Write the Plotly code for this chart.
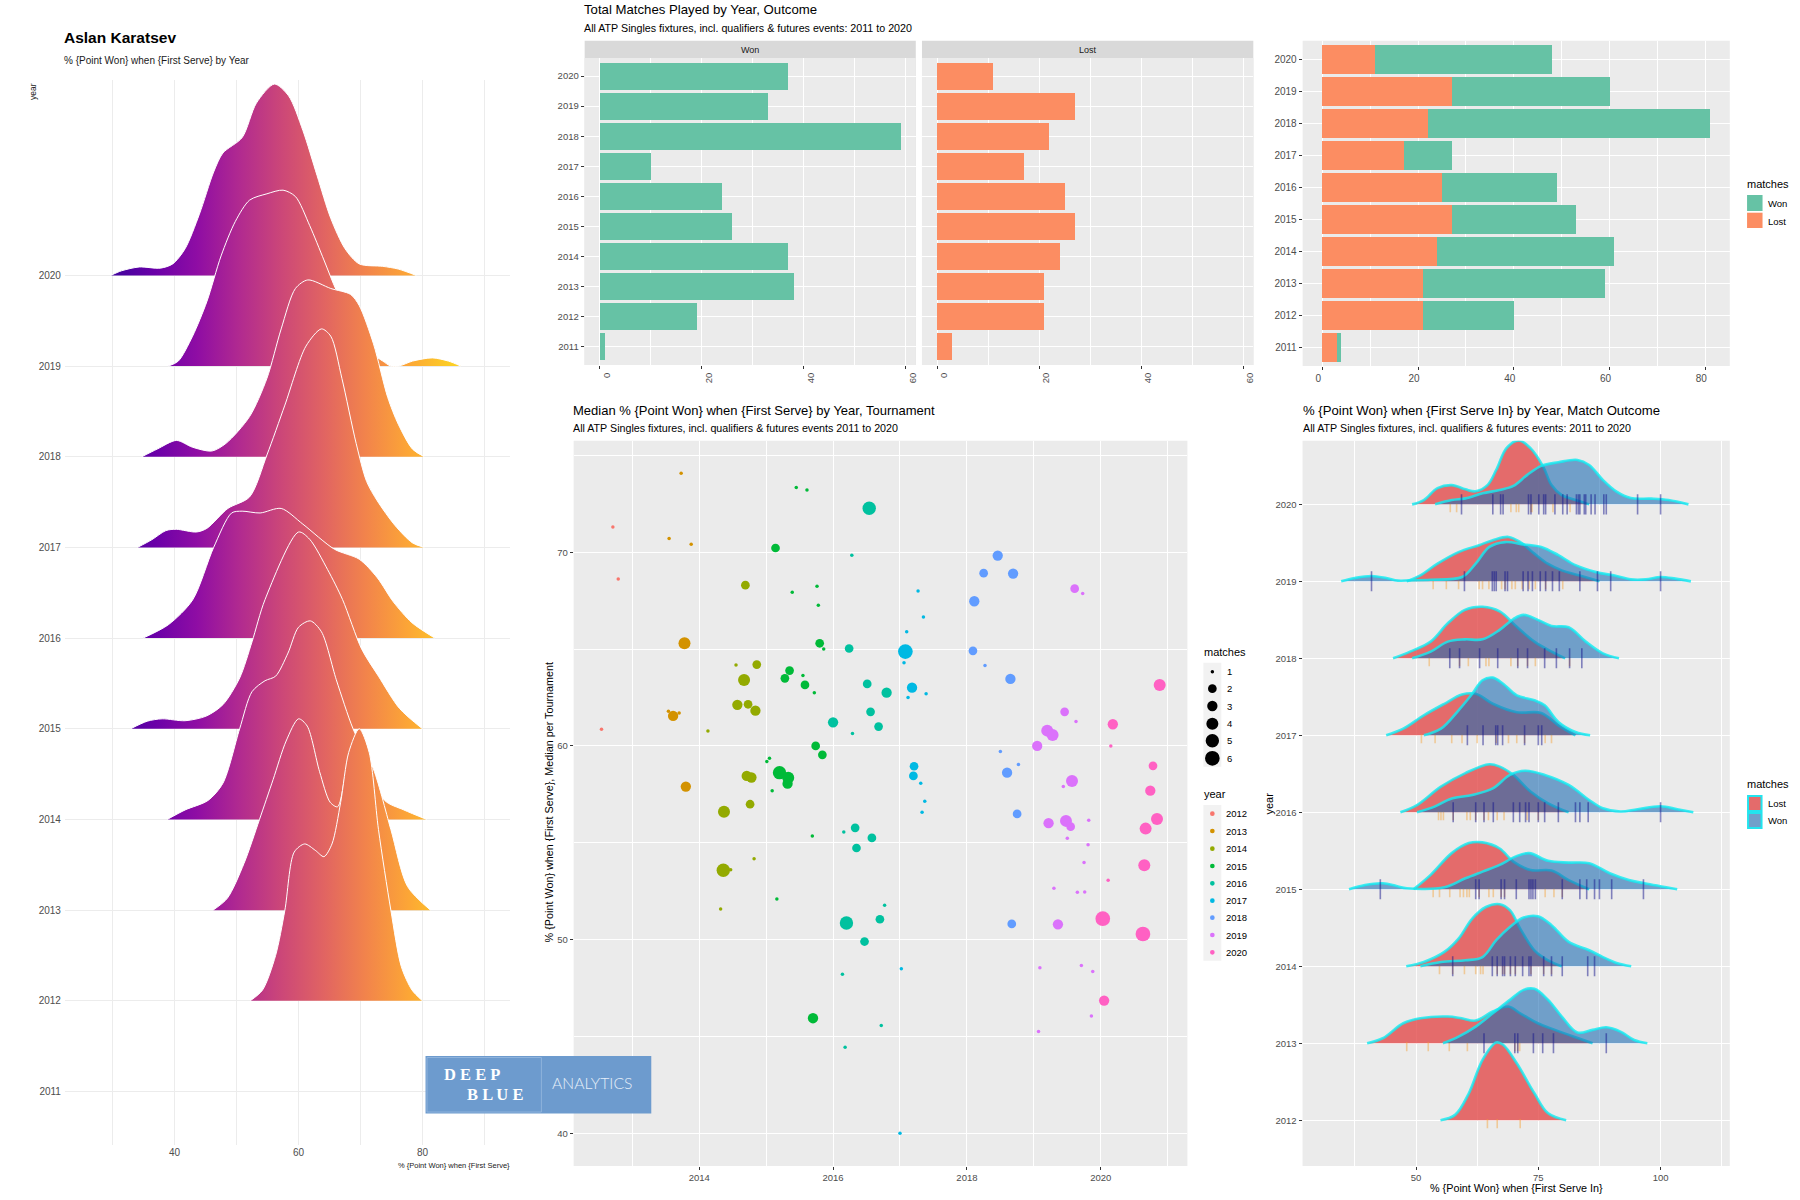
import plotly.graph_objects as go

WIDTH = 1800
HEIGHT = 1200

SANS = "Liberation Sans, sans-serif"
SERIF = "Liberation Serif, serif"

# ---- totals by year
years = [2011, 2012, 2013, 2014, 2015, 2016, 2017, 2018, 2019, 2020]
won_matches = [1, 19, 38, 37, 26, 24, 10, 59, 33, 37]
lost_matches = [3, 21, 21, 24, 27, 25, 17, 22, 27, 11]

# ---- ridgeline, % point won (x) and ridge height in rows (h)
ridge_x_2020 = [29.7, 31.4, 34.3, 37.7, 39.7, 41.7, 44, 46.3, 47.8, 50.9, 53.2, 56.1, 58.4, 60.7, 63, 65.2, 67.5, 69.8, 73.6, 76.1, 79]
ridge_h_2020 = [0, .05, .093, .08, .127, .295, .675, 1.14, 1.35, 1.52, 1.9, 2.11, 1.98, 1.6, 1.1, .63, .295, .127, .1, .07, 0]
ridge_x_2019 = [39, 40.6, 42.9, 45.2, 47.5, 49.8, 52.1, 54.9, 57.5, 59.5, 61.8, 64.1, 66.1, 69.3, 71.5, 73.6, 74.9, 76.2, 78.4, 81.6, 84.2, 86.2]
ridge_h_2019 = [0, .055, .33, .71, 1.215, 1.595, 1.83, 1.9, 1.94, 1.87, 1.55, 1.17, .835, .41, .16, .055, 0, 0, .055, .09, .055, 0]
ridge_x_2018 = [34.7, 37.2, 40.3, 42.9, 46, 48.3, 52.1, 54.9, 57.2, 59.5, 61.5, 65.2, 68.4, 69.8, 72.1, 74.4, 76.1, 78.4, 80.3]
ridge_h_2018 = [0, .085, .18, .105, .063, .148, .443, .865, 1.41, 1.856, 1.95, 1.856, 1.79, 1.667, 1.245, .654, .359, .084, 0]
ridge_x_2017 = [34, 36.3, 38.6, 40.3, 43.5, 45.2, 48.6, 52.1, 54.9, 57.8, 61.2, 63.7, 65.2, 67, 69.3, 71, 72.7, 75.6, 78.4, 80.3]
ridge_h_2017 = [0, .084, .186, .2, .17, .21, .43, .557, 1.02, 1.57, 2.22, 2.41, 2.33, 1.865, 1.148, .726, .515, .24, .05, 0]
ridge_x_2016 = [34.9, 39, 42.9, 46.3, 49.2, 50.9, 53.8, 57.2, 60.7, 65.8, 69.8, 72.7, 75.3, 78.3, 82]
ridge_h_2016 = [0, .148, .42, 1, 1.38, 1.4, 1.38, 1.43, 1.257, .98, .87, .667, .4, .17, 0]
ridge_x_2015 = [32.9, 35.6, 38, 41.7, 45.1, 47.8, 50.5, 52.5, 54.6, 60, 61.8, 64.7, 67.1, 70.2, 72.9, 76.3, 80]
ridge_h_2015 = [0, .084, .11, .089, .14, .266, .56, .96, 1.426, 2.17, 2.09, 1.755, 1.426, .878, .58, .224, 0]
ridge_x_2014 = [38.8, 41.7, 45.4, 47.8, 50.5, 52.5, 54.6, 56.3, 58.3, 60, 61.9, 63.7, 66.1, 68.8, 71.5, 73.9, 77, 80.7]
ridge_h_2014 = [0, .105, .21, .4, 1, 1.41, 1.53, 1.58, 1.835, 2.12, 2.19, 2.07, 1.54, 1, .61, .21, .105, 0]
ridge_x_2013 = [46.2, 48.5, 51.2, 53.7, 55.9, 58, 60, 61.4, 63.4, 65.1, 66.3, 67.8, 69.5, 71.9, 74.9, 77.6, 81.3]
ridge_h_2013 = [0, .13, .515, 1, 1.44, 1.865, 2.11, 2.03, 1.527, 1.19, 1.14, 1.57, 1.87, 1.59, .89, .26, 0]
ridge_x_2012 = [52.2, 54.2, 56.3, 57.8, 59.3, 61, 62.7, 64.1, 65.4, 66.8, 68.1, 69.8, 71.4, 72.9, 74.9, 76.6, 78.3, 80]
ridge_h_2012 = [0, .12, .5, 1, 1.64, 1.73, 1.66, 1.59, 1.73, 2.19, 2.74, 3, 2.74, 1.89, 1, .375, .12, 0]

ridge_rows = [
    (2020, ridge_x_2020, ridge_h_2020),
    (2019, ridge_x_2019, ridge_h_2019),
    (2018, ridge_x_2018, ridge_h_2018),
    (2017, ridge_x_2017, ridge_h_2017),
    (2016, ridge_x_2016, ridge_h_2016),
    (2015, ridge_x_2015, ridge_h_2015),
    (2014, ridge_x_2014, ridge_h_2014),
    (2013, ridge_x_2013, ridge_h_2013),
    (2012, ridge_x_2012, ridge_h_2012),
]

plasma_stops = ["#41049d", "#6a00a8", "#8f0da4", "#b12a90", "#cc4778", "#e16462", "#f2844b", "#fca636", "#fcce25"]

# ---- tournament medians per year: date, median %, matches played
t_x_2012 = [2012.71, 2012.79, 2012.54]
t_y_2012 = [71.31, 68.62, 60.86]
t_m_2012 = [1, 1, 1]
t_x_2013 = [2013.73, 2013.55, 2013.88, 2013.78, 2013.54, 2013.70, 2013.61, 2013.80]
t_y_2013 = [74.08, 70.71, 70.41, 65.3, 61.79, 61.7, 61.55, 57.9]
t_m_2013 = [1, 1, 1, 4, 1, 1, 3, 3]
t_x_2014 = [2014.69, 2014.55, 2014.86, 2014.67, 2014.57, 2014.73, 2014.84, 2014.13, 2014.71, 2014.78, 2014.76, 2014.37, 2014.82, 2014.36, 2014.47, 2014.32]
t_y_2014 = [68.3, 64.18, 64.2, 63.4, 62.12, 62.15, 61.82, 60.77, 58.45, 58.37, 56.99, 56.6, 54.17, 53.58, 53.61, 51.58]
t_m_2014 = [2, 1, 2, 4, 3, 2, 3, 1, 3, 3, 2, 4, 1, 5, 1, 1]
t_x_2015 = [2015.45, 2015.61, 2015.14, 2015.39, 2015.76, 2015.78, 2015.80, 2015.86, 2015.35, 2015.28, 2015.55, 2015.58, 2015.72, 2015.74, 2015.84, 2015.05, 2015.01, 2015.2, 2015.33, 2015.32, 2015.09, 2015.69, 2015.16, 2015.70]
t_y_2015 = [73.34, 73.22, 70.22, 67.93, 68.24, 67.26, 65.3, 65.01, 63.89, 63.49, 63.63, 63.15, 62.74, 60, 59.54, 59.36, 59.19, 58.62, 58.36, 58.05, 57.69, 55.35, 52.1, 45.94]
t_m_2015 = [1, 1, 2, 1, 1, 1, 2, 1, 2, 2, 1, 2, 1, 2, 2, 1, 1, 5, 4, 3, 1, 1, 1, 3]
t_x_2016 = [2016.54, 2016.28, 2016.24, 2016.51, 2016.80, 2016.56, 2016.0, 2016.29, 2016.68, 2016.33, 2016.16, 2016.58, 2016.35, 2016.77, 2016.70, 2016.2, 2016.47, 2016.14, 2016.72, 2016.18]
t_y_2016 = [72.27, 69.85, 65.03, 63.2, 62.75, 61.76, 61.22, 60.64, 61.0, 55.77, 55.56, 55.25, 54.73, 51.77, 51.05, 50.86, 49.9, 48.21, 45.56, 44.44]
t_m_2016 = [5, 1, 2, 2, 3, 2, 3, 1, 2, 2, 1, 2, 2, 1, 2, 5, 2, 1, 1, 1]
t_x_2017 = [2017.27, 2017.35, 2017.1, 2017.08, 2017.06, 2017.18, 2017.39, 2017.12, 2017.21, 2017.2, 2017.31, 2017.37, 2017.33, 2017.02, 2017.0]
t_y_2017 = [68.0, 66.66, 65.89, 64.87, 64.29, 63.01, 62.7, 62.5, 58.95, 58.45, 58.07, 57.14, 56.57, 48.49, 40]
t_m_2017 = [1, 1, 1, 6, 1, 3, 1, 1, 2, 2, 1, 1, 1, 1, 1]
t_x_2018 = [2018.46, 2018.25, 2018.69, 2018.11, 2018.09, 2018.27, 2018.65, 2018.5, 2018.77, 2018.6, 2018.75, 2018.67]
t_y_2018 = [69.83, 68.92, 68.9, 67.47, 64.91, 64.15, 63.46, 59.71, 59.04, 58.62, 56.49, 50.81]
t_m_2018 = [3, 2, 3, 3, 2, 1, 3, 1, 1, 3, 2, 2]
t_x_2019 = [2019.61, 2019.73, 2019.46, 2019.63, 2019.2, 2019.28, 2019.05, 2019.44, 2019.57, 2019.22, 2019.48, 2019.55, 2019.82, 2019.5, 2019.81, 2019.75, 2019.3, 2019.65, 2019.76, 2019.36, 2019.09, 2019.71, 2019.88, 2019.86, 2019.07]
t_y_2019 = [68.12, 67.87, 61.76, 61.26, 60.79, 60.57, 60, 57.9, 58.19, 56.01, 56.13, 55.83, 56.16, 55.23, 54.9, 53.98, 52.65, 52.44, 52.46, 50.79, 48.54, 48.66, 48.35, 46.06, 45.25]
t_m_2019 = [2, 1, 2, 1, 4, 4, 3, 1, 4, 3, 4, 2, 1, 1, 1, 1, 1, 1, 1, 3, 1, 1, 1, 1, 1]
t_x_2020 = [2020.88, 2020.18, 2020.15, 2020.78, 2020.74, 2020.84, 2020.67, 2020.65, 2020.11, 2020.03, 2020.63, 2020.05]
t_y_2020 = [63.15, 61.12, 60, 58.97, 57.69, 56.23, 55.73, 53.84, 53.06, 51.08, 50.29, 46.85]
t_m_2020 = [4, 3, 1, 2, 3, 4, 4, 4, 1, 6, 6, 3]

tournament_rows = [
    (2012, t_x_2012, t_y_2012, t_m_2012, "#F8766D"),
    (2013, t_x_2013, t_y_2013, t_m_2013, "#D39200"),
    (2014, t_x_2014, t_y_2014, t_m_2014, "#93AA00"),
    (2015, t_x_2015, t_y_2015, t_m_2015, "#00BA38"),
    (2016, t_x_2016, t_y_2016, t_m_2016, "#00C19F"),
    (2017, t_x_2017, t_y_2017, t_m_2017, "#00B9E3"),
    (2018, t_x_2018, t_y_2018, t_m_2018, "#619CFF"),
    (2019, t_x_2019, t_y_2019, t_m_2019, "#DB72FB"),
    (2020, t_x_2020, t_y_2020, t_m_2020, "#FF61C3"),
]
match_size = {1: 3.5, 2: 8.7, 3: 10.3, 4: 12, 5: 13.4, 6: 14.7}

# ---- ridges by match outcome
lost_x_2020 = [49.2, 51.6, 54.4, 57.3, 60.1, 62.2, 64.6, 66.4, 68.5, 71, 73.4, 76, 77.7, 79.8, 82.6, 85.4]
lost_h_2020 = [0, .056, .21, .25, .195, .17, .25, .447, .73, .83, .73, .49, .25, .12, .056, 0]
won_x_2020 = [53.9, 57.3, 60.1, 63.6, 67.1, 69.9, 72.7, 75.6, 79.1, 83, 85.4, 88.2, 91, 93.9, 98.1, 101.6, 105.7]
won_h_2020 = [0, .056, .078, .143, .187, .24, .38, .5, .547, .577, .512, .317, .165, .082, .074, .056, 0]
rug_won_2020 = [59.3, 65.7, 67.3, 67.8, 73, 73.5, 75.1, 76.1, 76.5, 78.4, 80, 80.9, 82.8, 83.2, 83.5, 84.4, 84.7, 85.8, 86.6, 88.4, 88.9, 95.3, 100]
rug_lost_2020 = [57, 58.3, 69.4, 70.5, 71, 73.5, 73.7, 78, 81.5]

lost_x_2019 = [48.1, 50.9, 54.4, 58.7, 62.9, 65.7, 68.9, 71.3, 74.2, 76.9, 79.8, 83.3, 87.5]
lost_h_2019 = [0, .078, .23, .38, .47, .534, .577, .51, .36, .23, .143, .078, 0]
won_x_2019 = [34.7, 37.5, 40.9, 43.9, 46.3, 48.8, 53, 59.4, 62.2, 65, 68.2, 72, 75.6, 79.1, 82.6, 86.8, 90.4, 93.9, 97, 100, 103, 106.2]
won_h_2019 = [0, .043, .07, .043, .01, .013, .02, .056, .23, .447, .51, .48, .447, .34, .21, .12, .078, .026, .026, .056, .035, 0]
rug_won_2019 = [40.9, 59.9, 65.6, 66, 66.4, 68.2, 68.7, 71.9, 72.9, 73.8, 75.4, 76.5, 77.9, 79.3, 83.5, 87.1, 89.8, 100]
rug_lost_2019 = [53.5, 56.2, 58.7, 62.9, 63.6, 64.9, 67.5, 68.2, 69.6, 70.3, 71.7, 73.1, 74.4, 76.5, 80]

lost_x_2018 = [45.3, 48.8, 53, 56.5, 60, 63.6, 67.1, 70.6, 74.2, 77.7, 80.5]
lost_h_2018 = [0, .087, .217, .455, .63, .67, .61, .41, .217, .087, 0]
won_x_2018 = [49.2, 53, 56.5, 60, 63.6, 67.1, 69.9, 72, 74.9, 77.7, 81.2, 84.7, 88.2, 91.5]
won_h_2018 = [0, .087, .217, .247, .247, .37, .51, .564, .5, .42, .403, .217, .065, 0]
rug_won_2018 = [56.9, 58.9, 63, 66.7, 70.8, 72.8, 76.3, 78.7, 81.4, 83.9]
rug_lost_2018 = [52.7, 58.9, 60.7, 64.3, 64.9, 69.4, 70.8, 72.8, 74.4, 81.4]

lost_x_2017 = [43.9, 47.4, 51.6, 55.8, 59.4, 62.2, 65.7, 70.6, 75.6, 79.1, 82.6]
lost_h_2017 = [0, .087, .26, .41, .53, .54, .41, .3, .29, .13, 0]
won_x_2017 = [51.6, 55.1, 58.7, 61.5, 63.6, 65.7, 67.8, 70.6, 74.2, 76.3, 79.1, 82.6, 85.6]
won_h_2017 = [0, .087, .325, .54, .716, .75, .67, .52, .455, .39, .174, .043, 0]
rug_won_2017 = [60.5, 63.7, 66.3, 66.7, 67.7, 72.2, 75, 75.7]
rug_lost_2017 = [51.1, 53.9, 57.3, 59.4, 62.5, 66.4, 68.9, 70.6, 72.2, 76.4, 77.7]

lost_x_2016 = [46.8, 50.2, 55.1, 60.1, 65, 67.1, 69.9, 73.4, 77, 81.2]
lost_h_2016 = [0, .095, .334, .51, .625, .594, .486, .27, .117, 0]
won_x_2016 = [50.2, 53.8, 57.3, 61.5, 65.7, 69.2, 72.3, 76.3, 81.2, 85.4, 88.2, 91.8, 95.3, 100, 103.4, 106.7]
won_h_2016 = [0, .074, .18, .225, .31, .486, .54, .486, .356, .16, .052, .01, .04, .078, .04, 0]
rug_won_2016 = [57.6, 62.2, 63.9, 65.8, 69.9, 71.2, 72.4, 73.1, 75, 76.3, 79.1, 82.6, 83.5, 85.2, 100]
rug_lost_2016 = [54.6, 55.1, 55.6, 57.6, 60.4, 61.1, 62.2, 63.9, 64.8, 66.6, 68, 72.7, 75]

lost_x_2015 = [49.5, 53, 57.3, 60.8, 63.6, 67.1, 69.9, 73.4, 77.7, 81.2, 85.4]
lost_h_2015 = [0, .187, .47, .6, .61, .53, .36, .25, .243, .12, 0]
won_x_2015 = [36.3, 39.6, 43.2, 46, 48.1, 55.8, 60.1, 63.6, 67.1, 70.3, 73.1, 77, 81.2, 85.4, 89.6, 93.5, 96.7, 103.4]
won_h_2015 = [0, .056, .078, .043, .013, .026, .143, .23, .317, .425, .47, .37, .347, .338, .208, .12, .078, 0]
rug_won_2015 = [42.7, 62.2, 62.9, 67.4, 68.1, 70.5, 73.1, 73.5, 73.9, 74.4, 79.9, 83.5, 84.9, 86.5, 87.5, 90, 96.5]
rug_lost_2015 = [53.5, 54.8, 56.9, 59, 59.7, 60.4, 60.9, 62.9, 64.9, 65.8, 67.4, 68.1, 76.4, 78.2, 79.9]

lost_x_2014 = [48, 51.6, 55.8, 58.7, 61.5, 64.3, 67.1, 69.2, 71.3, 74.2, 77, 79.8]
lost_h_2014 = [0, .056, .187, .36, .62, .77, .807, .73, .49, .208, .078, 0]
won_x_2014 = [50.9, 55.1, 60.1, 63.6, 66.4, 69.2, 72, 74.9, 77.7, 81.2, 85.4, 88.2, 91, 94]
won_h_2014 = [0, .056, .078, .12, .34, .51, .633, .65, .534, .317, .208, .12, .043, 0]
rug_won_2014 = [57.5, 65.6, 66.6, 67.7, 68.1, 69.3, 70.3, 71.8, 73.1, 73.5, 76.1, 77.7, 79.9, 85.1, 86.5]
rug_lost_2014 = [54.8, 57.5, 59.9, 62.2, 63.2, 63.7, 66.6, 67.7, 68.1, 69.3, 70.3, 73.5, 76.1, 77.7]

lost_x_2013 = [40, 43.2, 47.4, 50.9, 56.5, 59.3, 62.2, 65.7, 68.9, 71.3, 74.9, 78.4, 82.6, 86.1]
lost_h_2013 = [0, .065, .26, .325, .347, .325, .295, .412, .477, .39, .26, .174, .078, 0]
won_x_2013 = [55.5, 58.7, 62.2, 65.7, 69.2, 72, 74.2, 77, 79.8, 83, 86.1, 88.9, 91.8, 94.6, 97.3]
won_h_2013 = [0, .087, .217, .39, .564, .694, .707, .564, .347, .139, .174, .208, .152, .043, 0]
rug_won_2013 = [63.9, 70.2, 70.8, 74, 75.9, 78.1, 88.9]
rug_lost_2013 = [48.1, 52.5, 56.8, 60.5, 70.2, 70.8, 71.2]

lost_x_2012 = [55, 58, 60.8, 63.6, 66.4, 67.8, 70.6, 74.2, 77, 80.7]
lost_h_2012 = [0, .07, .35, .785, 1.01, .98, .74, .35, .09, 0]
rug_lost_2012 = [64.6, 66.6, 71.3]

outcome_rows = [
    (2020, lost_x_2020, lost_h_2020, won_x_2020, won_h_2020, rug_lost_2020, rug_won_2020),
    (2019, lost_x_2019, lost_h_2019, won_x_2019, won_h_2019, rug_lost_2019, rug_won_2019),
    (2018, lost_x_2018, lost_h_2018, won_x_2018, won_h_2018, rug_lost_2018, rug_won_2018),
    (2017, lost_x_2017, lost_h_2017, won_x_2017, won_h_2017, rug_lost_2017, rug_won_2017),
    (2016, lost_x_2016, lost_h_2016, won_x_2016, won_h_2016, rug_lost_2016, rug_won_2016),
    (2015, lost_x_2015, lost_h_2015, won_x_2015, won_h_2015, rug_lost_2015, rug_won_2015),
    (2014, lost_x_2014, lost_h_2014, won_x_2014, won_h_2014, rug_lost_2014, rug_won_2014),
    (2013, lost_x_2013, lost_h_2013, won_x_2013, won_h_2013, rug_lost_2013, rug_won_2013),
    (2012, lost_x_2012, lost_h_2012, [], [], rug_lost_2012, []),
]

GREEN = "#66c2a5"
ORANGE = "#fc8d62"
CYAN = "rgba(20,235,242,0.82)"
LOST_FILL = "rgba(226,75,75,0.8)"
WON_FILL = "rgba(30,108,178,0.6)"
PANEL_GREY = "#ebebeb"
TICK_GREY = "#4d4d4d"


def paper_x(px):
    return px / WIDTH


def paper_y(px):
    return 1 - px / HEIGHT


def add_text(fig, x, y, text, size, family=SANS, color="black", anchor="left", angle=0):
    fig.add_annotation(
        x=paper_x(x), y=paper_y(y), xref="paper", yref="paper", text=text,
        showarrow=False, xanchor=anchor, yanchor="middle", textangle=angle,
        borderpad=0, borderwidth=0,
        font=dict(size=size, family=family, color=color))


def add_rect(fig, x0, y0, x1, y1, fill, layer="below", line_color=None, line_width=0):
    fig.add_shape(
        type="rect", xref="paper", yref="paper", layer=layer,
        x0=paper_x(x0), x1=paper_x(x1), y0=paper_y(y0), y1=paper_y(y1),
        fillcolor=fill, line=dict(color=line_color, width=line_width))


def add_dot(fig, x, y, diameter, fill):
    r = diameter / 2
    fig.add_shape(
        type="circle", xref="paper", yref="paper", layer="above",
        x0=paper_x(x - r), x1=paper_x(x + r), y0=paper_y(y - r), y1=paper_y(y + r),
        fillcolor=fill, line=dict(width=0))


def set_axes(fig, name, left, right, top, bottom, x_range, y_range, x_ticks, y_ticks,
             x_minor, y_minor=None, grid="white", size=9.5, ticklen=3,
             show_y=True, x_angle=0, x_shift=0, y_standoff=0):
    suffix = "" if name == 1 else str(name)
    minor_x = dict(tickvals=x_minor, showgrid=True, gridcolor=grid, gridwidth=0.6, ticks="")
    minor_y = dict(tickvals=y_minor or [], showgrid=True, gridcolor=grid, gridwidth=0.6, ticks="")
    fig.update_layout(**{
        "xaxis" + suffix: dict(
            domain=[paper_x(left), paper_x(right)], range=x_range, anchor="y" + suffix,
            tickmode="array", tickvals=x_ticks, ticktext=[str(v) for v in x_ticks],
            showgrid=True, gridcolor=grid, gridwidth=1.1, zeroline=False, showline=False,
            ticks="outside" if ticklen else "", ticklen=ticklen, tickwidth=1, tickcolor="#333333",
            tickangle=x_angle, ticklabelshift=x_shift,
            tickfont=dict(size=size, family=SANS, color=TICK_GREY), minor=minor_x),
        "yaxis" + suffix: dict(
            domain=[paper_y(bottom), paper_y(top)], range=y_range, anchor="x" + suffix,
            tickmode="array", tickvals=y_ticks, ticktext=[str(v) for v in y_ticks],
            showgrid=True, gridcolor=grid, gridwidth=1.1, zeroline=False, showline=False,
            showticklabels=show_y, ticklabelstandoff=y_standoff,
            ticks=("outside" if ticklen and show_y else ""), ticklen=ticklen, tickwidth=1, tickcolor="#333333",
            tickfont=dict(size=size, family=SANS, color=TICK_GREY), minor=minor_y),
    })


fig = go.Figure()

# ---- left panel, ridgeline with horizontal gradient
scale_plasma = [[i / (len(plasma_stops) - 1), c] for i, c in enumerate(plasma_stops)]
for year, xs, hs in ridge_rows:
    fig.add_trace(go.Scatter(
        x=xs, y=[year + h for h in hs], mode="lines", fill="toself",
        fillgradient=dict(type="horizontal", colorscale=scale_plasma, start=30, stop=84.5),
        line=dict(color="white", width=1, shape="spline", smoothing=0.8),
        xaxis="x", yaxis="y", showlegend=False, hoverinfo="skip"))

set_axes(fig, 1, 65, 511, 80, 1145, [22.3, 94.2], [2010.41, 2022.155],
         [40, 60, 80], years, [30, 50, 70, 90], grid="#ececec", size=10, ticklen=0, y_standoff=3)

add_text(fig, 64, 37, "<b>Aslan Karatsev</b>", 15.5)
add_text(fig, 64, 61, "% {Point Won} when {First Serve} by Year", 10, SANS, "#1a1a1a")
add_text(fig, 33, 91, "year", 8.5, SANS, "#1a1a1a", "center", -90)
add_text(fig, 511, 1165, "% {Point Won} when {First Serve}", 7.5, SANS, "#1a1a1a", "right")

# ---- won / lost facets
for axis_id, values, color in [(2, won_matches, GREEN), (3, lost_matches, ORANGE)]:
    fig.add_trace(go.Bar(
        x=values, y=years, orientation="h", width=0.9, marker=dict(color=color, line=dict(width=0)),
        xaxis="x%d" % axis_id, yaxis="y%d" % axis_id, showlegend=False, hoverinfo="skip"))

set_axes(fig, 2, 585.3, 916.8, 58, 365, [-2.95, 61.95], [2010.4, 2020.6], [0, 20, 40, 60], years,
         [10, 30, 50], x_angle=-90, x_shift=7)
set_axes(fig, 3, 923, 1254.7, 58, 365, [-2.95, 61.95], [2010.4, 2020.6], [0, 20, 40, 60], years,
         [10, 30, 50], show_y=False, x_angle=-90, x_shift=7)
for left, right, label in [(585.3, 916.8, "Won"), (923, 1254.7, "Lost")]:
    add_rect(fig, left, 40.7, right, 365, "#d9d9d9")
    add_rect(fig, left, 58, right, 365, PANEL_GREY)
    add_text(fig, (left + right) / 2, 50, label, 9, SANS, "#1a1a1a", "center")
add_text(fig, 585, 10, "Total Matches Played by Year, Outcome", 13.2)
add_text(fig, 585, 28, "All ATP Singles fixtures, incl. qualifiers &amp; futures events: 2011 to 2020", 10.7)

# ---- stacked totals
fig.add_trace(go.Bar(
    x=lost_matches, y=years, orientation="h", width=0.9, marker=dict(color=ORANGE, line=dict(width=0)),
    xaxis="x4", yaxis="y4", showlegend=False, hoverinfo="skip"))
fig.add_trace(go.Bar(
    x=won_matches, y=years, orientation="h", width=0.9, marker=dict(color=GREEN, line=dict(width=0)),
    xaxis="x4", yaxis="y4", showlegend=False, hoverinfo="skip"))
set_axes(fig, 4, 1304.1, 1731.7, 40.7, 366, [-4.1, 85.1], [2010.43, 2020.59], [0, 20, 40, 60, 80], years,
         [10, 30, 50, 70], size=10, x_shift=-4)
add_rect(fig, 1304.1, 40.7, 1731.7, 366, PANEL_GREY)
add_text(fig, 1749, 184, "matches", 11)
add_rect(fig, 1749, 195, 1764.5, 211, GREEN, "above")
add_rect(fig, 1749, 212.7, 1764.5, 228, ORANGE, "above")
add_text(fig, 1770, 203, "Won", 9.5)
add_text(fig, 1770, 221, "Lost", 9.5)

# ---- tournament scatter
for year, xs, ys, ms, color in tournament_rows:
    fig.add_trace(go.Scatter(
        x=xs, y=ys, mode="markers",
        marker=dict(color=color, size=[match_size[m] for m in ms], opacity=1, line=dict(width=0)),
        xaxis="x5", yaxis="y5", showlegend=False, hoverinfo="skip"))
set_axes(fig, 5, 574.3, 1188.7, 440.7, 1166, [2012.124, 2021.294], [38.31, 75.76],
         [2014, 2016, 2018, 2020], [40, 50, 60, 70], [2013, 2015, 2017, 2019, 2021], [45, 55, 65, 75])
add_rect(fig, 574.3, 440.7, 1188.7, 1166, PANEL_GREY)
add_text(fig, 574, 410, "Median % {Point Won} when {First Serve} by Year, Tournament", 13)
add_text(fig, 574, 428, "All ATP Singles fixtures, incl. qualifiers &amp; futures events 2011 to 2020", 10.7)
add_text(fig, 550, 802, "% {Point Won} when {First Serve}, Median per Tournament", 10.8, SANS, "black", "center", -90)

add_text(fig, 1205, 652, "matches", 11)
add_rect(fig, 1204.7, 662.7, 1222.7, 766.7, "#f2f2f2")
for m, y in zip([1, 2, 3, 4, 5, 6], [671.7, 688.7, 706, 723.7, 740.7, 758.3]):
    add_dot(fig, 1213.7, y, match_size[m], "black")
    add_text(fig, 1228.3, y, str(m), 9.5)
add_text(fig, 1205, 794.3, "year", 11)
add_rect(fig, 1204.7, 805, 1222.7, 960.7, "#f2f2f2")
for row, y in zip(tournament_rows, [813.7, 831, 848.7, 866, 883.3, 900.7, 917.7, 935, 952.3]):
    add_dot(fig, 1213.7, y, 4.7, row[4])
    add_text(fig, 1227.7, y, str(row[0]), 9.5)

# ---- ridges by outcome with rugs
for year, lx, lh, wx, wh, rl, rw in outcome_rows:
    fig.add_trace(go.Scatter(
        x=lx, y=[year + h for h in lh], mode="lines", fill="toself", fillcolor=LOST_FILL,
        line=dict(color=CYAN, width=2.6, shape="spline", smoothing=1),
        xaxis="x6", yaxis="y6", showlegend=False, hoverinfo="skip"))
    fig.add_trace(go.Scatter(
        x=rl, y=[year - 0.043] * len(rl), mode="markers",
        marker=dict(symbol="line-ns", size=6.7, line=dict(width=1.6, color="rgba(245,160,50,0.45)")),
        xaxis="x6", yaxis="y6", showlegend=False, hoverinfo="skip"))
    if wx:
        fig.add_trace(go.Scatter(
            x=wx, y=[year + h for h in wh], mode="lines", fill="toself", fillcolor=WON_FILL,
            line=dict(color=CYAN, width=2.6, shape="spline", smoothing=1),
            xaxis="x6", yaxis="y6", showlegend=False, hoverinfo="skip"))
        fig.add_trace(go.Scatter(
            x=rw, y=[year] * len(rw), mode="markers",
            marker=dict(symbol="line-ns", size=14.3, line=dict(width=1.6, color="rgba(20,20,140,0.5)")),
            xaxis="x6", yaxis="y6", showlegend=False, hoverinfo="skip"))

set_axes(fig, 6, 1304, 1731.7, 440.7, 1166, [26.8, 114.15], [2011.406, 2020.827],
         [50, 75, 100], years[1:], [37.5, 62.5, 87.5, 112.5])
add_rect(fig, 1304, 440.7, 1731.7, 1166, PANEL_GREY)
add_text(fig, 1304, 410, "% {Point Won} when {First Serve In} by Year, Match Outcome", 13.15)
add_text(fig, 1304, 428, "All ATP Singles fixtures, incl. qualifiers &amp; futures events: 2011 to 2020", 10.7)
add_text(fig, 1518, 1188, "% {Point Won} when {First Serve In}", 10.8, SANS, "black", "center")
add_text(fig, 1270, 804, "year", 11, SANS, "black", "center", -90)
add_text(fig, 1749, 784, "matches", 11)
add_rect(fig, 1750, 796, 1763.5, 811, "rgb(228,107,107)", "above", "#22e4ee", 2)
add_rect(fig, 1750, 813, 1763.5, 828, "rgb(112,159,202)", "above", "#22e4ee", 2)
add_text(fig, 1770, 803.5, "Lost", 9.5)
add_text(fig, 1770, 820.5, "Won", 9.5)

# ---- logo
add_rect(fig, 426, 1056, 652, 1113.6, "#6d9bce", "above")
add_rect(fig, 427.5, 1057.5, 542, 1112, "rgba(0,0,0,0)", "above", "#8fb3dc", 1)
add_text(fig, 473, 1074.5, "<b>D E E P</b>", 16.5, SERIF, "white", "center")
add_text(fig, 496, 1094.4, "<b>B L U E</b>", 16.5, SERIF, "white", "center")
add_text(fig, 592.6, 1083, "ANALYTICS", 15.7, "Lato Light, Lato, sans-serif", "#e6eff9", "center")

fig.update_layout(
    width=WIDTH, height=HEIGHT, margin=dict(l=0, r=0, t=0, b=0, pad=0),
    paper_bgcolor="white", plot_bgcolor="rgba(0,0,0,0)", barmode="stack", showlegend=False)

fig.write_html("out.html", config={"displayModeBar": False},
               post_script="document.body.style.margin='0';document.body.style.overflow='hidden';")
